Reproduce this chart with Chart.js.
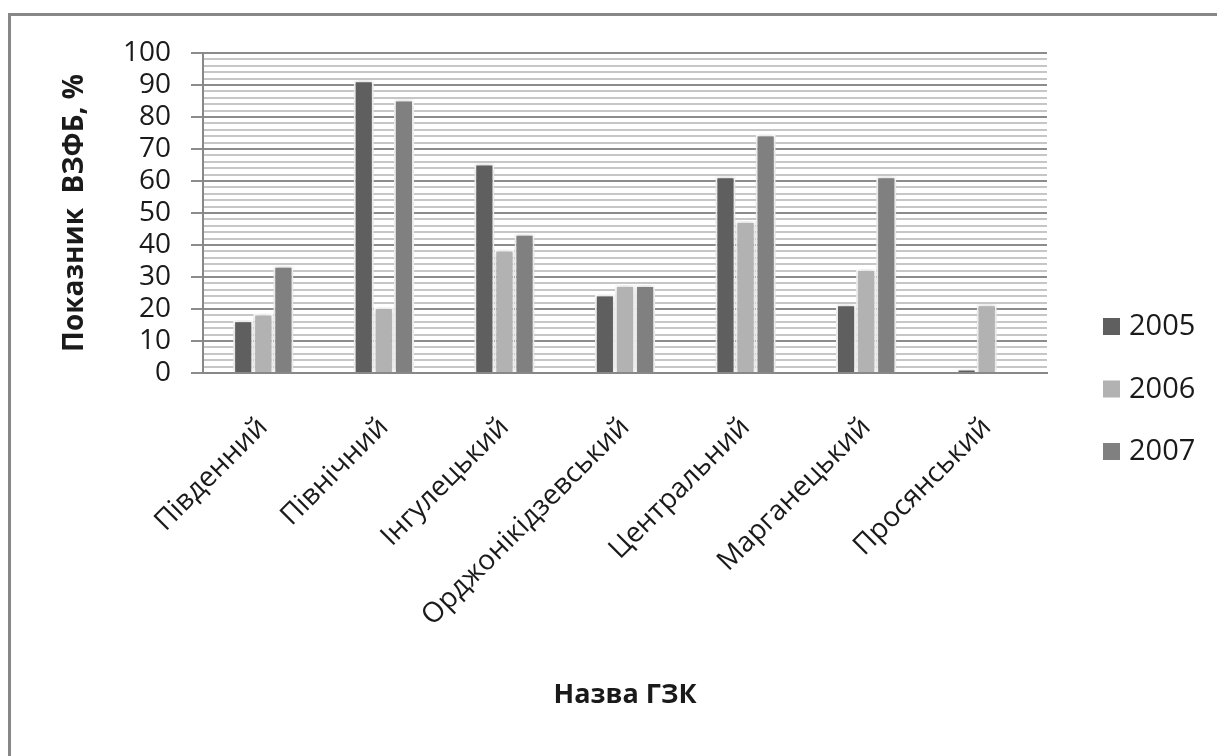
<!DOCTYPE html>
<html>
<head>
<meta charset="utf-8">
<script src="https://cdn.jsdelivr.net/npm/chart.js@4/dist/chart.umd.min.js"></script>
<style>
  html, body { margin: 0; padding: 0; background: #fff; overflow: hidden; }
  #wrap { position: relative; width: 1217px; height: 756px; }
  #frame { position: absolute; left: 8px; top: 13px; width: 1240px; height: 780px;
           border: 3px solid #878787; pointer-events: none; }
</style>
</head>
<body>
<div id="wrap">
  <canvas id="myChart" width="1217" height="756"></canvas>
  <div id="frame"></div>
</div>
<script>
// categories (mining plants) and yearly values, %
var plants = ["Південний", "Північний", "Інгулецький", "Орджонікідзевський", "Центральний", "Марганецький", "Просянський"];
var years = ["2005", "2006", "2007"];
var val2005 = [16.5, 91.5, 65.5, 24.5, 61.5, 21.5, 1.3];
var val2006 = [18.5, 20.5, 38.5, 27.5, 47.5, 32.5, 21.5];
var val2007 = [33.5, 85.5, 43.5, 27.5, 74.5, 61.5, 0];
var colors = ["#5f5f5f", "#b2b2b2", "#808080"];

var font = "'Open Sans', 'DejaVu Sans', sans-serif";

function makeSet(i, data){
  return {
    label: years[i],
    data: data,
    backgroundColor: colors[i],
    borderColor: "#ffffff",
    borderWidth: 2,
    categoryPercentage: 0.5,
    barPercentage: 1.0
  };
}

// soft glow round the bars, like the original
var glow = {
  id: 'glow',
  beforeDatasetsDraw: function(chart){
    var c = chart.ctx;
    c.save();
    c.shadowColor = "rgba(0,0,0,0.22)";
    c.shadowBlur = 6;
  },
  afterDatasetsDraw: function(chart){
    chart.ctx.restore();
  }
};

// legend on the right, one item per row
var sideLegend = {
  id: 'sideLegend',
  afterDraw: function(chart){
    var c = chart.ctx;
    var ds = chart.data.datasets;
    c.save();
    c.font = "29px " + font;
    c.textBaseline = "middle";
    c.textAlign = "left";
    for (var i = 0; i < ds.length; i++) {
      var y = 326 + i * 62.5;
      c.fillStyle = ds[i].backgroundColor;
      c.fillRect(1103, y - 8, 17, 17);
      c.fillStyle = "#1a1a1a";
      c.fillText(ds[i].label, 1129, y + 1);
    }
    c.restore();
  }
};

var ctx = document.getElementById('myChart');
var myChart = new Chart(ctx, {
  type: 'bar',
  data: {
    labels: plants,
    datasets: [makeSet(0, val2005), makeSet(1, val2006), makeSet(2, val2007)]
  },
  plugins: [glow, sideLegend],
  options: {
    responsive: false,
    animation: false,
    layout: { padding: { top: 53, right: 170, bottom: 0, left: 0 } },
    plugins: {
      legend: { display: false },
      tooltip: { enabled: false }
    },
    scales: {
      x: {
        grid: { display: false },
        border: { display: true, color: "#888888", width: 2 },
        ticks: {
          color: "#1a1a1a",
          font: { family: font, size: 28 },
          minRotation: 45,
          maxRotation: 45,
          padding: 30,
          autoSkip: false
        },
        title: {
          display: true,
          text: "Назва ГЗК",
          color: "#1a1a1a",
          font: { family: font, size: 27, weight: 'bold' },
          padding: { top: 0, bottom: 44 }
        },
        afterFit: function(scale){ scale.height = 383; }
      },
      y: {
        min: 0,
        max: 100,
        grid: {
          color: function(c){ return c.tick && c.tick.value % 10 === 0 ? "#8c8c8c" : "#c6c6c6"; },
          tickColor: function(c){ return c.tick && c.tick.value % 10 === 0 ? "#8c8c8c" : "rgba(0,0,0,0)"; },
          lineWidth: 2,
          tickLength: 12
        },
        border: { display: true, color: "#888888", width: 2 },
        ticks: {
          stepSize: 2,
          autoSkip: false,
          color: "#1a1a1a",
          font: { family: font, size: 28 },
          padding: 20,
          callback: function(v){ return v % 10 === 0 ? v : ''; }
        },
        title: {
          display: true,
          text: "Показник  ВЗФБ, %",
          color: "#1a1a1a",
          font: { family: font, size: 28, weight: 'bold' },
          padding: { top: 58, bottom: 0 }
        },
        afterFit: function(scale){ scale.width = 203; }
      }
    }
  }
});
</script>
</body>
</html>
